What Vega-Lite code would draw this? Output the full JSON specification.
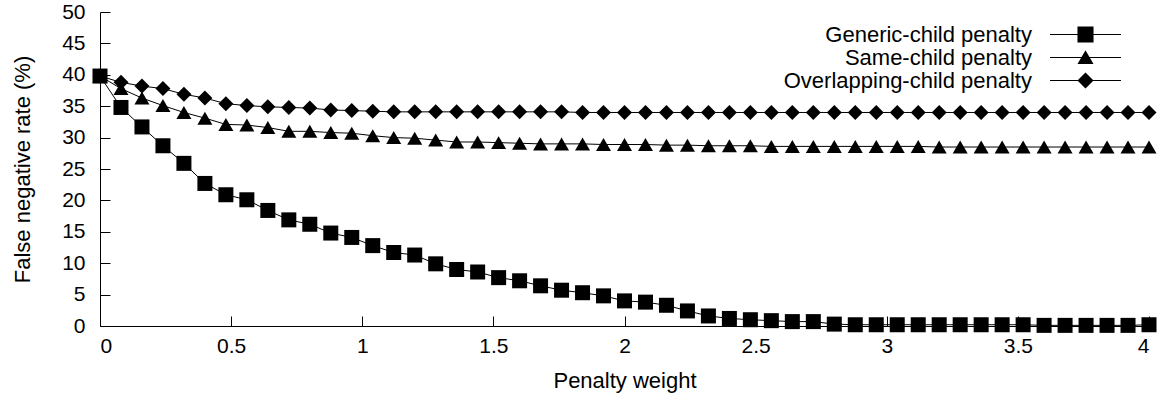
{
  "$schema": "https://vega.github.io/schema/vega-lite/v6.json",
  "width": 1049,
  "height": 314,
  "autosize": "none",
  "padding": {"left": 100, "top": 12, "right": 17, "bottom": 74},
  "background": "white",
  "config": {
    "view": {"stroke": null},
    "font": "Liberation Sans",
    "axis": {
      "grid": false,
      "domainColor": "black",
      "domainWidth": 1,
      "tickColor": "black",
      "tickWidth": 1,
      "tickSize": -10,
      "labelOverlap": false,
      "labelFont": "Liberation Sans",
      "labelFontSize": 21,
      "labelColor": "black",
      "titleFont": "Liberation Sans",
      "titleFontSize": 22,
      "titleFontWeight": "normal",
      "titleColor": "black"
    },
    "legend": {
      "labelFont": "Liberation Sans",
      "labelFontSize": 22,
      "labelColor": "black",
      "labelLimit": 500
    }
  },
  "data": {
    "values": [
      {"w": 0, "s": "Generic-child penalty", "v": 39.8},
      {"w": 0.08, "s": "Generic-child penalty", "v": 34.8},
      {"w": 0.16, "s": "Generic-child penalty", "v": 31.7},
      {"w": 0.24, "s": "Generic-child penalty", "v": 28.7},
      {"w": 0.32, "s": "Generic-child penalty", "v": 25.9},
      {"w": 0.4, "s": "Generic-child penalty", "v": 22.7},
      {"w": 0.48, "s": "Generic-child penalty", "v": 20.9},
      {"w": 0.56, "s": "Generic-child penalty", "v": 20.1},
      {"w": 0.64, "s": "Generic-child penalty", "v": 18.4},
      {"w": 0.72, "s": "Generic-child penalty", "v": 16.9},
      {"w": 0.8, "s": "Generic-child penalty", "v": 16.2},
      {"w": 0.88, "s": "Generic-child penalty", "v": 14.8},
      {"w": 0.96, "s": "Generic-child penalty", "v": 14.1},
      {"w": 1.04, "s": "Generic-child penalty", "v": 12.8},
      {"w": 1.12, "s": "Generic-child penalty", "v": 11.7},
      {"w": 1.2, "s": "Generic-child penalty", "v": 11.3},
      {"w": 1.28, "s": "Generic-child penalty", "v": 9.9},
      {"w": 1.36, "s": "Generic-child penalty", "v": 9.0},
      {"w": 1.44, "s": "Generic-child penalty", "v": 8.6},
      {"w": 1.52, "s": "Generic-child penalty", "v": 7.7},
      {"w": 1.6, "s": "Generic-child penalty", "v": 7.2},
      {"w": 1.68, "s": "Generic-child penalty", "v": 6.4},
      {"w": 1.76, "s": "Generic-child penalty", "v": 5.7},
      {"w": 1.84, "s": "Generic-child penalty", "v": 5.3},
      {"w": 1.92, "s": "Generic-child penalty", "v": 4.8},
      {"w": 2.0, "s": "Generic-child penalty", "v": 4.0},
      {"w": 2.08, "s": "Generic-child penalty", "v": 3.8},
      {"w": 2.16, "s": "Generic-child penalty", "v": 3.3},
      {"w": 2.24, "s": "Generic-child penalty", "v": 2.4},
      {"w": 2.32, "s": "Generic-child penalty", "v": 1.6},
      {"w": 2.4, "s": "Generic-child penalty", "v": 1.2},
      {"w": 2.48, "s": "Generic-child penalty", "v": 1.0},
      {"w": 2.56, "s": "Generic-child penalty", "v": 0.85},
      {"w": 2.64, "s": "Generic-child penalty", "v": 0.7},
      {"w": 2.72, "s": "Generic-child penalty", "v": 0.7},
      {"w": 2.8, "s": "Generic-child penalty", "v": 0.3},
      {"w": 2.88, "s": "Generic-child penalty", "v": 0.2},
      {"w": 2.96, "s": "Generic-child penalty", "v": 0.2},
      {"w": 3.04, "s": "Generic-child penalty", "v": 0.2},
      {"w": 3.12, "s": "Generic-child penalty", "v": 0.2},
      {"w": 3.2, "s": "Generic-child penalty", "v": 0.2},
      {"w": 3.28, "s": "Generic-child penalty", "v": 0.2},
      {"w": 3.36, "s": "Generic-child penalty", "v": 0.2},
      {"w": 3.44, "s": "Generic-child penalty", "v": 0.2},
      {"w": 3.52, "s": "Generic-child penalty", "v": 0.2},
      {"w": 3.6, "s": "Generic-child penalty", "v": 0.1},
      {"w": 3.68, "s": "Generic-child penalty", "v": 0.1},
      {"w": 3.76, "s": "Generic-child penalty", "v": 0.1},
      {"w": 3.84, "s": "Generic-child penalty", "v": 0.1},
      {"w": 3.92, "s": "Generic-child penalty", "v": 0.1},
      {"w": 4.0, "s": "Generic-child penalty", "v": 0.2},

      {"w": 0, "s": "Same-child penalty", "v": 39.8},
      {"w": 0.08, "s": "Same-child penalty", "v": 37.8},
      {"w": 0.16, "s": "Same-child penalty", "v": 36.3},
      {"w": 0.24, "s": "Same-child penalty", "v": 35.1},
      {"w": 0.32, "s": "Same-child penalty", "v": 34.0},
      {"w": 0.4, "s": "Same-child penalty", "v": 33.1},
      {"w": 0.48, "s": "Same-child penalty", "v": 32.1},
      {"w": 0.56, "s": "Same-child penalty", "v": 32.0},
      {"w": 0.64, "s": "Same-child penalty", "v": 31.6},
      {"w": 0.72, "s": "Same-child penalty", "v": 31.0},
      {"w": 0.8, "s": "Same-child penalty", "v": 31.0},
      {"w": 0.88, "s": "Same-child penalty", "v": 30.8},
      {"w": 0.96, "s": "Same-child penalty", "v": 30.7},
      {"w": 1.04, "s": "Same-child penalty", "v": 30.3},
      {"w": 1.12, "s": "Same-child penalty", "v": 30.0},
      {"w": 1.2, "s": "Same-child penalty", "v": 29.9},
      {"w": 1.28, "s": "Same-child penalty", "v": 29.6},
      {"w": 1.36, "s": "Same-child penalty", "v": 29.3},
      {"w": 1.44, "s": "Same-child penalty", "v": 29.3},
      {"w": 1.52, "s": "Same-child penalty", "v": 29.2},
      {"w": 1.6, "s": "Same-child penalty", "v": 29.1},
      {"w": 1.68, "s": "Same-child penalty", "v": 29.0},
      {"w": 1.76, "s": "Same-child penalty", "v": 29.0},
      {"w": 1.84, "s": "Same-child penalty", "v": 29.0},
      {"w": 1.92, "s": "Same-child penalty", "v": 28.9},
      {"w": 2.0, "s": "Same-child penalty", "v": 28.9},
      {"w": 2.08, "s": "Same-child penalty", "v": 28.9},
      {"w": 2.16, "s": "Same-child penalty", "v": 28.8},
      {"w": 2.24, "s": "Same-child penalty", "v": 28.8},
      {"w": 2.32, "s": "Same-child penalty", "v": 28.7},
      {"w": 2.4, "s": "Same-child penalty", "v": 28.7},
      {"w": 2.48, "s": "Same-child penalty", "v": 28.7},
      {"w": 2.56, "s": "Same-child penalty", "v": 28.6},
      {"w": 2.64, "s": "Same-child penalty", "v": 28.6},
      {"w": 2.72, "s": "Same-child penalty", "v": 28.6},
      {"w": 2.8, "s": "Same-child penalty", "v": 28.6},
      {"w": 2.88, "s": "Same-child penalty", "v": 28.6},
      {"w": 2.96, "s": "Same-child penalty", "v": 28.6},
      {"w": 3.04, "s": "Same-child penalty", "v": 28.6},
      {"w": 3.12, "s": "Same-child penalty", "v": 28.6},
      {"w": 3.2, "s": "Same-child penalty", "v": 28.5},
      {"w": 3.28, "s": "Same-child penalty", "v": 28.5},
      {"w": 3.36, "s": "Same-child penalty", "v": 28.5},
      {"w": 3.44, "s": "Same-child penalty", "v": 28.5},
      {"w": 3.52, "s": "Same-child penalty", "v": 28.5},
      {"w": 3.6, "s": "Same-child penalty", "v": 28.5},
      {"w": 3.68, "s": "Same-child penalty", "v": 28.5},
      {"w": 3.76, "s": "Same-child penalty", "v": 28.5},
      {"w": 3.84, "s": "Same-child penalty", "v": 28.5},
      {"w": 3.92, "s": "Same-child penalty", "v": 28.5},
      {"w": 4.0, "s": "Same-child penalty", "v": 28.5},

      {"w": 0, "s": "Overlapping-child penalty", "v": 39.8},
      {"w": 0.08, "s": "Overlapping-child penalty", "v": 38.8},
      {"w": 0.16, "s": "Overlapping-child penalty", "v": 38.2},
      {"w": 0.24, "s": "Overlapping-child penalty", "v": 37.8},
      {"w": 0.32, "s": "Overlapping-child penalty", "v": 36.9},
      {"w": 0.4, "s": "Overlapping-child penalty", "v": 36.3},
      {"w": 0.48, "s": "Overlapping-child penalty", "v": 35.4},
      {"w": 0.56, "s": "Overlapping-child penalty", "v": 35.1},
      {"w": 0.64, "s": "Overlapping-child penalty", "v": 34.9},
      {"w": 0.72, "s": "Overlapping-child penalty", "v": 34.8},
      {"w": 0.8, "s": "Overlapping-child penalty", "v": 34.7},
      {"w": 0.88, "s": "Overlapping-child penalty", "v": 34.4},
      {"w": 0.96, "s": "Overlapping-child penalty", "v": 34.3},
      {"w": 1.04, "s": "Overlapping-child penalty", "v": 34.2},
      {"w": 1.12, "s": "Overlapping-child penalty", "v": 34.1},
      {"w": 1.2, "s": "Overlapping-child penalty", "v": 34.1},
      {"w": 1.28, "s": "Overlapping-child penalty", "v": 34.1},
      {"w": 1.36, "s": "Overlapping-child penalty", "v": 34.1},
      {"w": 1.44, "s": "Overlapping-child penalty", "v": 34.1},
      {"w": 1.52, "s": "Overlapping-child penalty", "v": 34.1},
      {"w": 1.6, "s": "Overlapping-child penalty", "v": 34.1},
      {"w": 1.68, "s": "Overlapping-child penalty", "v": 34.1},
      {"w": 1.76, "s": "Overlapping-child penalty", "v": 34.1},
      {"w": 1.84, "s": "Overlapping-child penalty", "v": 34.0},
      {"w": 1.92, "s": "Overlapping-child penalty", "v": 34.0},
      {"w": 2.0, "s": "Overlapping-child penalty", "v": 34.0},
      {"w": 2.08, "s": "Overlapping-child penalty", "v": 34.0},
      {"w": 2.16, "s": "Overlapping-child penalty", "v": 34.0},
      {"w": 2.24, "s": "Overlapping-child penalty", "v": 34.0},
      {"w": 2.32, "s": "Overlapping-child penalty", "v": 34.0},
      {"w": 2.4, "s": "Overlapping-child penalty", "v": 34.0},
      {"w": 2.48, "s": "Overlapping-child penalty", "v": 34.0},
      {"w": 2.56, "s": "Overlapping-child penalty", "v": 34.0},
      {"w": 2.64, "s": "Overlapping-child penalty", "v": 34.0},
      {"w": 2.72, "s": "Overlapping-child penalty", "v": 34.0},
      {"w": 2.8, "s": "Overlapping-child penalty", "v": 34.0},
      {"w": 2.88, "s": "Overlapping-child penalty", "v": 34.0},
      {"w": 2.96, "s": "Overlapping-child penalty", "v": 34.0},
      {"w": 3.04, "s": "Overlapping-child penalty", "v": 34.0},
      {"w": 3.12, "s": "Overlapping-child penalty", "v": 34.0},
      {"w": 3.2, "s": "Overlapping-child penalty", "v": 34.0},
      {"w": 3.28, "s": "Overlapping-child penalty", "v": 34.0},
      {"w": 3.36, "s": "Overlapping-child penalty", "v": 34.0},
      {"w": 3.44, "s": "Overlapping-child penalty", "v": 34.0},
      {"w": 3.52, "s": "Overlapping-child penalty", "v": 34.0},
      {"w": 3.6, "s": "Overlapping-child penalty", "v": 34.0},
      {"w": 3.68, "s": "Overlapping-child penalty", "v": 34.0},
      {"w": 3.76, "s": "Overlapping-child penalty", "v": 34.0},
      {"w": 3.84, "s": "Overlapping-child penalty", "v": 34.0},
      {"w": 3.92, "s": "Overlapping-child penalty", "v": 34.0},
      {"w": 4.0, "s": "Overlapping-child penalty", "v": 34.0}
    ]
  },
  "encoding": {
    "x": {
      "field": "w", "type": "quantitative",
      "scale": {"domain": [0, 4], "nice": false, "zero": false},
      "axis": {"values": [0, 0.5, 1, 1.5, 2, 2.5, 3, 3.5, 4], "format": "~g", "title": "Penalty weight", "labelPadding": 19, "titlePadding": 14, "labelOverlap": false}
    },
    "y": {
      "field": "v", "type": "quantitative",
      "scale": {"domain": [0, 50], "nice": false},
      "axis": {"values": [0, 5, 10, 15, 20, 25, 30, 35, 40, 45, 50], "title": "False negative rate (%)", "labelPadding": 25, "titlePadding": 27, "labelOverlap": false, "labelBound": false}
    }
  },
  "layer": [
    {
      "mark": {"type": "line", "color": "black", "strokeWidth": 1},
      "encoding": {"detail": {"field": "s"}}
    },
    {
      "mark": {"type": "point", "filled": true, "color": "black", "opacity": 1, "size": 225},
      "encoding": {
        "shape": {
          "field": "s", "type": "nominal",
          "scale": {"domain": ["Generic-child penalty", "Same-child penalty", "Overlapping-child penalty"], "range": ["square", "triangle-up", "diamond"]},
          "legend": null
        }
      }
    },
    {
      "transform": [{"filter": "datum.w > 100"}],
      "mark": {"type": "point", "filled": true, "fill": "black", "stroke": "black", "strokeWidth": 1, "opacity": 1, "size": 484},
      "encoding": {
        "shape": {
          "field": "s", "type": "nominal",
          "scale": {
            "domain": ["Generic-child penalty", "Same-child penalty", "Overlapping-child penalty"],
            "range": [
              "M-3.227,-0.045H3.227V0.045H-3.227ZM-0.73,-0.73H0.73V0.73H-0.73Z",
              "M-3.227,-0.045H3.227V0.045H-3.227ZM0,-0.66L0.73,0.58L-0.73,0.58Z",
              "M-3.227,-0.045H3.227V0.045H-3.227ZM0,-0.73L0.73,0L0,0.73L-0.73,0Z"
            ]
          },
          "legend": {
            "title": null,
            "orient": "none",
            "legendX": 974,
            "legendY": 11,
            "padding": 0,
            "labelAlign": "right",
            "labelOffset": -65,
            "rowPadding": 0,
            "symbolSize": 484,
            "symbolFillColor": "black",
            "symbolStrokeColor": "black",
            "symbolStrokeWidth": 1,
            "symbolOpacity": 1
          }
        }
      }
    }
  ],
  "resolve": {"scale": {"shape": "independent"}, "legend": {"shape": "independent"}}
}
